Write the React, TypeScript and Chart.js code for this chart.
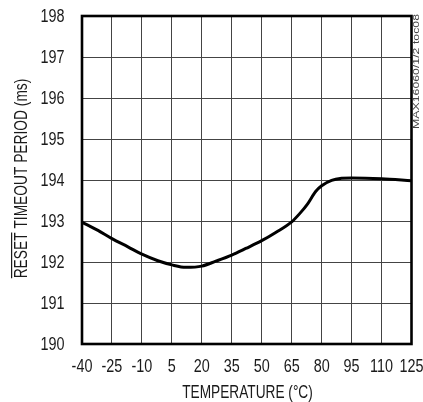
import React, { useEffect, useRef } from "react";
import { Chart, registerables } from "chart.js";

Chart.register(...registerables);

const temperatures = [-40, -32, -25, -17, -10, -2, 5, 12, 20, 27, 35, 42, 50, 57, 65, 69, 73, 77, 80, 85, 90, 95, 110, 125];
const timeoutMs = [192.97, 192.77, 192.57, 192.37, 192.19, 192.03, 191.93, 191.87, 191.9, 192.02, 192.17, 192.33, 192.52, 192.72, 192.98, 193.18, 193.42, 193.72, 193.86, 193.99, 194.04, 194.05, 194.03, 193.98];
const xTickValues = [-40, -25, -10, 5, 20, 35, 50, 65, 80, 95, 110, 125];
const yTickValues = [190, 191, 192, 193, 194, 195, 196, 197, 198];
const xTitle = "TEMPERATURE (\u00B0C)";
const yTitleOverlined = "RESET";
const yTitleRest = " TIMEOUT PERIOD (ms)";
const sideNote = "MAX16060/1/2 toc08";

const FONT = "'Liberation Sans', Arial, sans-serif";
const FS = 18;

function narrowText(ctx: any, text: string, x: number, y: number, align: "left" | "center" | "right", sq: number) {
  const w = ctx.measureText(text).width * sq;
  let sx = x;
  if (align === "center") sx = x - w / 2;
  else if (align === "right") sx = x - w;
  ctx.save();
  ctx.translate(sx, y);
  ctx.scale(sq, 1);
  ctx.textAlign = "left";
  ctx.fillText(text, 0, 0);
  ctx.restore();
  return w;
}

const decorPlugin = {
  id: "decor",
  afterDraw(chart: any) {
    const { ctx, chartArea } = chart;
    const { left, right, top, bottom } = chartArea;
    const xs = chart.scales.x;
    const ys = chart.scales.y;
    ctx.save();
    // frame
    ctx.strokeStyle = "#000";
    ctx.lineWidth = 2.6;
    ctx.strokeRect(left, top, right - left, bottom - top);

    ctx.fillStyle = "#1a1a1a";
    ctx.font = `${FS}px ${FONT}`;
    ctx.textBaseline = "alphabetic";
    const capH = FS * 0.716;

    // y tick labels
    ys.ticks.forEach((t: any) => {
      const py = ys.getPixelForValue(t.value);
      narrowText(ctx, String(t.value), 64.5, py + capH / 2, "right", 0.8);
    });
    // x tick labels
    xs.ticks.forEach((t: any) => {
      const px = xs.getPixelForValue(t.value);
      narrowText(ctx, String(t.value), px, 371.5, "center", 0.8);
    });

    // x title
    narrowText(ctx, xTitle, 247.5, 397.5, "center", 0.76);

    // y title rotated with overline over RESET
    const ysq = 0.765;
    const full = yTitleOverlined + yTitleRest;
    const fullW = ctx.measureText(full).width * ysq;
    const ovW = ctx.measureText(yTitleOverlined).width * ysq;
    ctx.save();
    ctx.translate(26.5, 178.5);
    ctx.rotate(-Math.PI / 2);
    narrowText(ctx, full, 0, 0, "center", ysq);
    ctx.strokeStyle = "#1a1a1a";
    ctx.lineWidth = 1.2;
    ctx.beginPath();
    ctx.moveTo(-fullW / 2, -capH - 2);
    ctx.lineTo(-fullW / 2 + ovW, -capH - 2);
    ctx.stroke();
    ctx.restore();

    // side note
    ctx.save();
    ctx.font = `9px ${FONT}`;
    const w = ctx.measureText(sideNote).width;
    const target = 115;
    ctx.translate(416.5, 129);
    ctx.rotate(-Math.PI / 2);
    ctx.scale(target / w, 1);
    ctx.textAlign = "left";
    ctx.textBaseline = "middle";
    ctx.fillStyle = "#444";
    ctx.fillText(sideNote, 0, 0);
    ctx.restore();

    ctx.restore();
  },
};

export default function App() {
  const canvasRef = useRef<HTMLCanvasElement | null>(null);

  useEffect(() => {
    if (!canvasRef.current) return;
    const chart = new Chart(canvasRef.current, {
      type: "line",
      data: {
        datasets: [
          {
            data: temperatures.map((t, i) => ({ x: t, y: timeoutMs[i] })),
            borderColor: "#000",
            borderWidth: 3,
            pointRadius: 0,
            fill: false,
            cubicInterpolationMode: "monotone",
          },
        ],
      },
      options: {
        animation: false,
        responsive: true,
        maintainAspectRatio: false,
        layout: { padding: { left: 0, right: 11.5, top: 16, bottom: 0 } },
        plugins: { legend: { display: false }, tooltip: { enabled: false } },
        scales: {
          x: {
            type: "linear",
            min: -40,
            max: 125,
            afterBuildTicks: (scale: any) => {
              scale.ticks = xTickValues.map((v) => ({ value: v }));
            },
            afterFit: (scale: any) => {
              scale.height = 58;
            },
            grid: { color: "#444", lineWidth: 1, drawTicks: false },
            border: { display: false },
            ticks: { display: false, autoSkip: false },
          },
          y: {
            type: "linear",
            min: 190,
            max: 198,
            afterBuildTicks: (scale: any) => {
              scale.ticks = yTickValues.map((v) => ({ value: v }));
            },
            afterFit: (scale: any) => {
              scale.width = 82;
            },
            grid: { color: "#444", lineWidth: 1, drawTicks: false },
            border: { display: false },
            ticks: { display: false, autoSkip: false },
          },
        },
      },
      plugins: [decorPlugin],
    });
    return () => chart.destroy();
  }, []);

  return (
    <div style={{ position: "fixed", left: 0, top: 0, width: 423, height: 402, background: "#fff" }}>
      <canvas ref={canvasRef} />
    </div>
  );
}
